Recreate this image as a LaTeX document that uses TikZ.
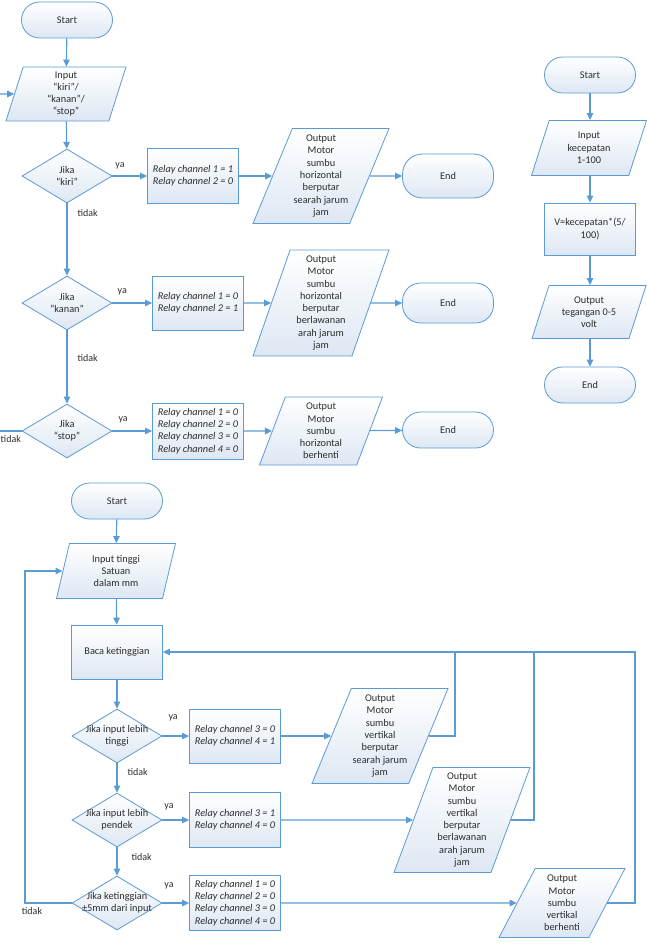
\documentclass[tikz,border=0pt]{standalone}
\usepackage{fontspec}
\setmainfont{Carlito}
\usepackage{tikz}
\usetikzlibrary{arrows.meta,positioning,shapes.geometric}
\definecolor{flowblue}{RGB}{91,155,213}
\definecolor{flowfill}{RGB}{221,231,243}
\definecolor{ink}{RGB}{45,45,45}
\tikzset{
  shp/.style   = {draw=flowblue, line width=0.8pt, top color=white, bottom color=flowfill,
                  text=ink, font=\fontsize{10.3}{12.3}\selectfont, align=center, inner sep=1pt},
  term/.style  = {shp, rectangle, rounded corners=18pt, minimum width=91pt, minimum height=36pt},
  proc/.style  = {shp, rectangle, minimum width=91pt, minimum height=54pt},
  relay/.style = {proc, align=left, font=\itshape\fontsize{10.3}{12.3}\selectfont},
  dec/.style   = {shp, diamond, minimum width=90pt, minimum height=54pt, inner sep=0pt},
  dectxt/.style= {text=ink, font=\fontsize{10.3}{12.3}\selectfont, align=center, inner sep=0pt},
  io/.style    = {shp, trapezium, trapezium stretches body, trapezium left angle=#1,
                  trapezium right angle=180-#1},
  lbl/.style   = {text=ink, font=\fontsize{10}{11}\selectfont, inner sep=1pt},
  ln/.style    = {draw=flowblue, line width=1.2pt},
  fl/.style    = {ln, -{Triangle[length=7pt,width=6.5pt]}},
}

\begin{document}
\begin{tikzpicture}[x=1pt, y=-1pt]
  \useasboundingbox (0,0) rectangle (646,944);

  % arah horizontal
  \node[term] (start1) at (67,20) {Start};
  \node[io=70, minimum width=120pt, minimum height=54pt] (in1) at (66,94) {Input\\“kiri”/\\“kanan”/\\“stop”};
  \node[dec, label={[dectxt]center:Jika\\“kiri”}] (kiri) at (67,176) {};
  \node[dec, label={[dectxt]center:Jika\\“kanan”}] (kanan) at (67,303) {};
  \node[dec, label={[dectxt]center:Jika\\“stop”}] (stop) at (67,431) {};
  \node[relay, minimum height=55pt] (relay1) at (193,176) {Relay channel 1 = 1\\Relay channel 2 = 0};
  \node[relay] (relay2) at (198,303) {Relay channel 1 = 0\\Relay channel 2 = 1};
  \node[relay, minimum height=56pt] (relay3) at (198,431) {Relay channel 1 = 0\\Relay channel 2 = 0\\Relay channel 3 = 0\\Relay channel 4 = 0};
  \node[io=65, minimum width=136pt, minimum height=95pt] (out1) at (321,176) {Output\\Motor\\sumbu\\horizontal\\berputar\\searah jarum\\jam};
  \node[io=69, minimum width=136pt, minimum height=106pt] (out2) at (321,303) {Output\\Motor\\sumbu\\horizontal\\berputar\\berlawanan\\arah jarum\\jam};
  \node[io=66, minimum width=123pt, minimum height=68pt] (out3) at (321,431) {Output\\Motor\\sumbu\\horizontal\\berhenti};
  \node[term, minimum height=44pt, rounded corners=20pt] (end1) at (448,176) {End};
  \node[term, minimum height=40pt] (end2) at (448,303) {End};
  \node[term] (end3) at (448,430) {End};
  \coordinate (inlink) at (0,94);
  \coordinate (stopexit) at (0,431);

  \draw[fl] (start1) -- (in1);
  \draw[fl] (inlink) -- (in1);
  \draw[fl] (in1) -- (kiri);
  \draw[fl] (kiri) -- node[lbl, above=5pt, pos=0.22]{ya} (relay1);
  \draw[fl] (kanan) -- node[lbl, above=6pt, pos=0.25]{ya} (relay2);
  \draw[fl] (stop) -- node[lbl, above=6pt, pos=0.27]{ya} (relay3);
  \draw[fl] (kiri) -- node[lbl, right=9pt, pos=0.14]{tidak} (kanan);
  \draw[fl] (kanan) -- node[lbl, right=9pt, pos=0.38]{tidak} (stop);
  \draw[ln] (stop) -- node[lbl, below=3pt, pos=0.5]{tidak} (stopexit);
  \draw[fl] (relay1) -- (out1);
  \draw[fl] (relay2) -- (out2);
  \draw[fl] (relay3) -- (out3);
  \draw[fl] (out1) -- (end1);
  \draw[fl] (out2) -- (end2);
  \draw[fl] (out3) -- (end3);

  % tegangan
  \node[term] (start2) at (590,75) {Start};
  \node[io=62, minimum width=115pt, minimum height=55pt] (in2) at (589,148) {Input\\kecepatan\\1-100};
  \node[proc, minimum height=52pt] (calc) at (590,229) {V=kecepatan*(5/\\100)};
  \node[io=63, minimum width=114pt, minimum height=53pt] (out4) at (589,312) {Output\\tegangan 0-5\\volt};
  \node[term] (end4) at (590,385) {End};

  \draw[fl] (start2) -- (start2 |- in2.north);
  \draw[fl] (in2.south -| calc) -- (calc);
  \draw[fl] (calc) -- (calc |- out4.north);
  \draw[fl] (out4.south -| end4) -- (end4);

  % arah vertikal
  \node[term] (start3) at (117,501) {Start};
  \node[io=69, minimum width=119pt, minimum height=55pt] (in3) at (116,571) {Input tinggi\\Satuan\\dalam mm};
  \node[proc] (read) at (117,652) {Baca ketinggian};
  \node[dec, label={[dectxt]center:Jika input lebih\\tinggi}] (tinggi) at (117,736) {};
  \node[dec, label={[dectxt]center:Jika input lebih\\pendek}] (pendek) at (117,820) {};
  \node[dec, label={[dectxt]center:Jika ketinggian\\±5mm dari input}] (pas) at (117,903) {};
  \node[relay] (relay4) at (235,736) {Relay channel 3 = 0\\Relay channel 4 = 1};
  \node[relay, minimum height=55pt] (relay5) at (235,820) {Relay channel 3 = 1\\Relay channel 4 = 0};
  \node[relay, minimum height=55pt] (relay6) at (235,903) {Relay channel 1 = 0\\Relay channel 2 = 0\\Relay channel 3 = 0\\Relay channel 4 = 0};
  \node[io=65, minimum width=136pt, minimum height=95pt] (out5) at (380,736) {Output\\Motor\\sumbu\\vertikal\\berputar\\searah jarum\\jam};
  \node[io=68, minimum width=136pt, minimum height=105pt] (out6) at (462,820) {Output\\Motor\\sumbu\\vertikal\\berputar\\berlawanan\\arah jarum\\jam};
  \node[io=58, minimum width=126pt, minimum height=69pt] (out7) at (562,903) {Output\\Motor\\sumbu\\vertikal\\berhenti};
  \coordinate (loopc) at (25,903);
  \coordinate (fb1) at (455,652);
  \coordinate (fb2) at (534,652);
  \coordinate (backc) at (635,652);

  \draw[fl] (start3) -- (in3);
  \draw[fl] (in3) -- (read);
  \draw[fl] (read) -- (tinggi);
  \draw[fl] (tinggi) -- node[lbl, above=13pt, pos=0.4]{ya} (relay4);
  \draw[fl] (pendek) -- node[lbl, above=8pt, pos=0.25]{ya} (relay5);
  \draw[fl] (pas) -- node[lbl, above=12pt, pos=0.25]{ya} (relay6);
  \draw[fl] (tinggi) -- node[lbl, right=9pt, pos=0.3]{tidak} (pendek);
  \draw[fl] (pendek) -- node[lbl, right=13pt, pos=0.35]{tidak} (pas);
  \draw[fl] (pas) -- node[lbl, below=3pt, pos=0.85]{tidak} (loopc) |- (in3);
  \draw[fl] (relay4) -- (out5);
  \draw[fl] (relay5) -- (out6);
  \draw[fl] (relay6) -- (out7);
  \draw[ln] (out5) -| (fb1);
  \draw[ln] (out6) -| (fb2);
  \draw[fl] (out7) -| (backc) -- (read);
\end{tikzpicture}
\end{document}
